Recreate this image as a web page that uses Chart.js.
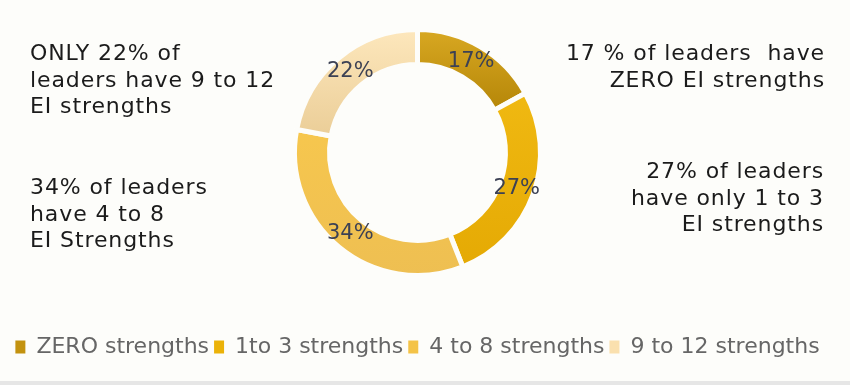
<!DOCTYPE html>
<html>
<head>
<meta charset="utf-8">
<script src="https://cdn.jsdelivr.net/npm/chart.js@4"></script>
<style>
html, body { margin: 0; padding: 0; background: #fdfdfa; }
#wrap { position: relative; width: 850px; height: 385px; overflow: hidden; background: #fdfdfa; }
#c { position: absolute; left: 0; top: 0; }
.note { position: absolute; font-family: "DejaVu Sans", sans-serif; font-size: 22px; line-height: 26.5px; color: #1b1b1b; letter-spacing: 0.9px; white-space: pre; }
.right { text-align: right; }
#strip { position: absolute; left: 0; bottom: 0; width: 850px; height: 4px; background: #e6e6e6; }
</style>
</head>
<body>
<div id="wrap">
<canvas id="c" width="850" height="381"></canvas>
<div class="note" style="left:30px;top:40px">ONLY 22% of
leaders have 9 to 12
EI strengths</div>
<div class="note" style="left:30px;top:174px">34% of leaders
have 4 to 8
EI Strengths</div>
<div class="note right" style="right:25px;top:40px">17 % of leaders  have
ZERO EI strengths</div>
<div class="note right" style="right:26px;top:158px">27% of leaders
have only 1 to 3
EI strengths</div>
<div id="strip"></div>
</div>
<script>
// ---- data ----
const categories = ['ZERO strengths', '1to 3 strengths', '4 to 8 strengths', '9 to 12 strengths'];
const shares = [17, 27, 34, 22];

// ---- styles ----
const legendColors = ['#c3920f', '#ebb208', '#f4c347', '#fae0ae'];
const topColors    = ['#d8a822', '#f3bd16', '#f8c84d', '#fde7bc'];
const bottomColors = ['#b8890a', '#e5aa04', '#eebf52', '#e6c78e'];
const stopFrom     = [0.0, 0.05, 0.3, 0.0];
const stopTo       = [0.3, 0.95, 1.0, 0.55];
const RADIUS = 123;

function sliceFill(ctx) {
  const i = ctx.dataIndex;
  const chart = ctx.chart;
  const area = chart.chartArea;
  if (!area || i === undefined) return legendColors[i] || legendColors[0];
  const cy = (area.top + area.bottom) / 2;
  const g = chart.ctx.createLinearGradient(0, cy - RADIUS, 0, cy + RADIUS);
  g.addColorStop(stopFrom[i], topColors[i]);
  g.addColorStop(stopTo[i], bottomColors[i]);
  return g;
}

const sliceLabels = {
  id: 'sliceLabels',
  afterDatasetsDraw(chart) {
    const ctx = chart.ctx;
    const meta = chart.getDatasetMeta(0);
    ctx.save();
    ctx.font = '21px "DejaVu Sans"';
    ctx.fillStyle = '#3c4154';
    ctx.textAlign = 'center';
    ctx.textBaseline = 'middle';
    meta.data.forEach((arc, i) => {
      const p = arc.tooltipPosition();
      ctx.fillText(shares[i] + '%', p.x, p.y);
    });
    ctx.restore();
  }
};

new Chart(document.getElementById('c'), {
  type: 'doughnut',
  data: {
    labels: categories,
    datasets: [{
      data: shares,
      backgroundColor: sliceFill,
      borderColor: '#fdfdfa',
      borderWidth: 5,
      hoverOffset: 0
    }]
  },
  options: {
    responsive: false,
    animation: false,
    radius: RADIUS,
    cutout: '71.5%',
    layout: { padding: { top: 20, bottom: 13, left: 0, right: 15 } },
    plugins: {
      tooltip: { enabled: false },
      legend: {
        position: 'bottom',
        title: { display: true, text: ' ', padding: 0, font: { size: 10, lineHeight: '46px' } },
        labels: {
          boxWidth: 10,
          boxHeight: 13,
          padding: 5,
          color: '#4a4f60',
          font: { family: '"DejaVu Sans"', size: 22 },
          generateLabels(chart) {
            return chart.data.labels.map((t, i) => ({
              text: t,
              fillStyle: legendColors[i],
              strokeStyle: 'rgba(0,0,0,0)',
              lineWidth: 0,
              hidden: false,
              index: i
            }));
          }
        }
      }
    }
  },
  plugins: [sliceLabels]
});
</script>
</body>
</html>
